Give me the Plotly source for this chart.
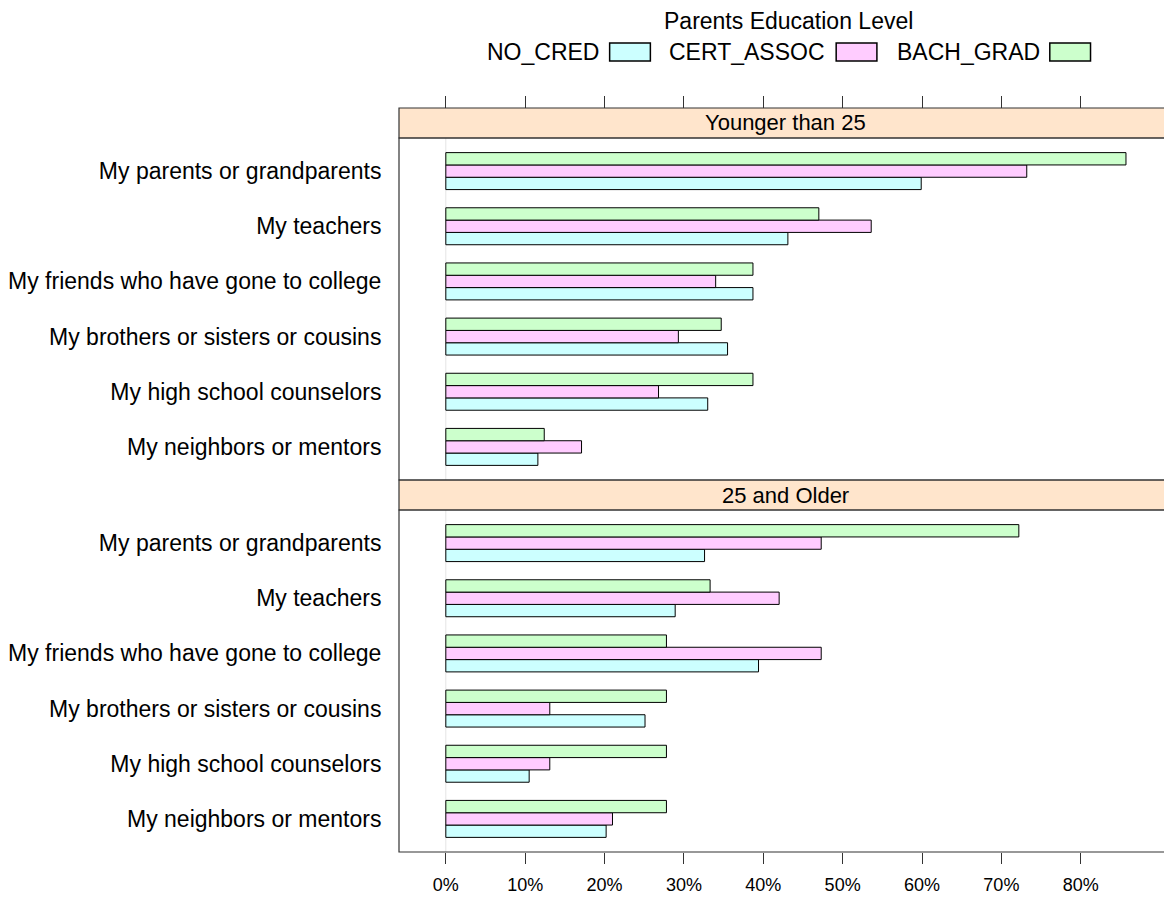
import plotly.graph_objects as go

categories = [
    "My parents or grandparents",
    "My teachers",
    "My friends who have gone to college",
    "My brothers or sisters or cousins",
    "My high school counselors",
    "My neighbors or mentors",
]
panels = ["Younger than 25", "25 and Older"]
series = ["NO_CRED", "CERT_ASSOC", "BACH_GRAD"]
colors = ["#CCFFFF", "#FFCCFF", "#CCFFCC"]

young_no_cred = [59.9, 43.1, 38.7, 35.5, 33.0, 11.6]
young_cert_assoc = [73.2, 53.6, 34.0, 29.3, 26.8, 17.1]
young_bach_grad = [85.7, 47.0, 38.7, 34.7, 38.7, 12.4]

older_no_cred = [32.6, 28.9, 39.4, 25.1, 10.5, 20.2]
older_cert_assoc = [47.3, 42.0, 47.3, 13.1, 13.1, 21.0]
older_bach_grad = [72.2, 33.3, 27.8, 27.8, 27.8, 27.8]

tick_vals = [0, 10, 20, 30, 40, 50, 60, 70, 80]
tick_text = ["0%", "10%", "20%", "30%", "40%", "50%", "60%", "70%", "80%"]

FONT = "Liberation Sans, Arial, sans-serif"
LINE = "#333333"
OFF = 8  # page body margin
W, H = 1164, 889
ML, MR, MT = 394 - OFF, 0, 108 - OFF
MB = H - (852 - OFF)
PW = W - ML - MR
PH = H - MT - MB


def px_x(px):
    return (px - OFF - ML) / PW


def px_y(py):
    return (H - MB - (py - OFF)) / PH


panel_data = [
    [young_no_cred, young_cert_assoc, young_bach_grad],
    [older_no_cred, older_cert_assoc, older_bach_grad],
]

fig = go.Figure()
for p, vals in enumerate(panel_data):
    xa = "x" if p == 0 else "x2"
    ya = "y" if p == 0 else "y2"
    for s, name in enumerate(series):
        fig.add_trace(go.Bar(
            x=vals[s], y=categories, orientation="h", name=name,
            marker=dict(color=colors[s], line=dict(color="#000000", width=1)),
            xaxis=xa, yaxis=ya, showlegend=False,
        ))

xrange = [-5.9, 91.5]
yrange = [-0.6, 5.6]
cat_order = list(reversed(categories))

top_strip = [px_y(138), 1.0]
bot_strip = [px_y(510), px_y(480)]

common_y = dict(
    type="category", categoryorder="array", categoryarray=cat_order,
    range=yrange, showgrid=False, zeroline=False, showline=False,
    ticks="outside", ticklen=12, tickcolor="rgba(0,0,0,0)",
    tickfont=dict(family=FONT, size=23, color="#000000"),
)

fig.update_layout(
    width=W, height=H,
    margin=dict(l=ML, r=MR, t=MT, b=MB),
    paper_bgcolor="white", plot_bgcolor="white",
    barmode="group", bargap=0.33, bargroupgap=0,
    font=dict(family=FONT, color="#000000"),
    xaxis=dict(
        domain=[0, 1], range=xrange, anchor="free", position=1.0, side="top",
        tickvals=tick_vals, showticklabels=False, ticks="outside", ticklen=12,
        tickcolor=LINE, showgrid=False, zeroline=False, showline=False,
    ),
    yaxis=dict(domain=[px_y(480), px_y(138)], anchor="x", **common_y),
    xaxis2=dict(
        domain=[0, 1], range=xrange, anchor="y2", side="bottom",
        tickvals=tick_vals, ticktext=tick_text, ticks="outside", ticklen=11,
        ticklabelstandoff=5,
        tickcolor=LINE, showgrid=False, zeroline=False, showline=False,
        tickfont=dict(family=FONT, size=18, color="#000000"),
    ),
    yaxis2=dict(domain=[0, bot_strip[0]], anchor="x2", **common_y),
)

shapes = []
# zero reference lines
for xa, ya in (("x", "y"), ("x2", "y2")):
    shapes.append(dict(type="line", xref=xa, yref=ya + " domain", x0=0, x1=0, y0=0, y1=1,
                       line=dict(color="#E4E4E4", width=1), layer="below"))
# panel boxes
for xa, ya in (("x", "y"), ("x2", "y2")):
    shapes.append(dict(type="rect", xref=xa + " domain", yref=ya + " domain", x0=0, x1=1, y0=0, y1=1,
                       line=dict(color=LINE, width=1.2), fillcolor="rgba(0,0,0,0)", layer="above"))
# strips
for (y0, y1) in (top_strip, bot_strip):
    shapes.append(dict(type="rect", xref="paper", yref="paper", x0=0, x1=1, y0=y0, y1=y1,
                       line=dict(color=LINE, width=1.2), fillcolor="#FFE5CC", layer="below"))

annotations = []
for (y0, y1), label in zip((top_strip, bot_strip), panels):
    annotations.append(dict(text=label, xref="paper", yref="paper", x=px_x(783), y=(y0 + y1) / 2,
                            xanchor="center", yanchor="middle", showarrow=False,
                            font=dict(family=FONT, size=22, color="#000000")))

# legend (text then box, lattice style)
annotations.append(dict(text="Parents Education Level", xref="paper", yref="paper",
                        x=px_x(786), y=px_y(21), xanchor="center", yanchor="middle", showarrow=False,
                        font=dict(family=FONT, size=23, color="#000000")))
legend_text_right = [597, 825, 1041]
legend_box_x = [(606, 647), (834, 875), (1049, 1090)]
for name, col, tr, (bx0, bx1) in zip(series, colors, legend_text_right, legend_box_x):
    annotations.append(dict(text=name, xref="paper", yref="paper", x=px_x(tr), y=px_y(52),
                            xanchor="right", yanchor="middle", showarrow=False,
                            font=dict(family=FONT, size=23, color="#000000")))
    shapes.append(dict(type="rect", xref="paper", yref="paper", x0=px_x(bx0), x1=px_x(bx1),
                       y0=px_y(61), y1=px_y(43), fillcolor=col,
                       line=dict(color="#000000", width=1.5)))

fig.update_layout(shapes=shapes, annotations=annotations)
fig.write_html("out.html")
